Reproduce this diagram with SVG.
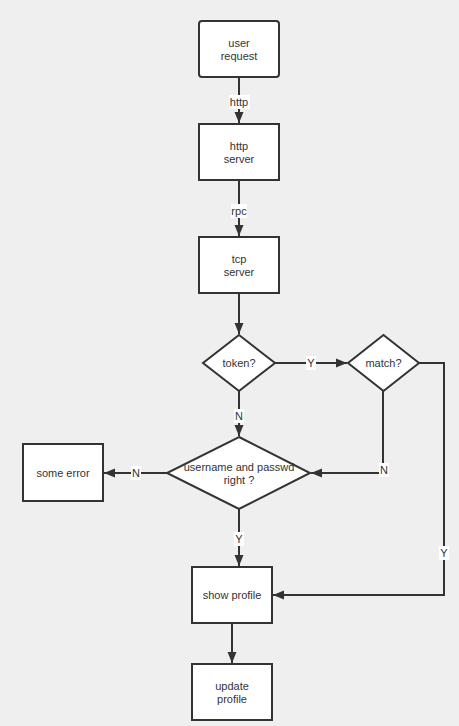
<svg xmlns="http://www.w3.org/2000/svg" width="459" height="726" viewBox="0 0 459 726">
<defs>
<style>
.n{fill:#fff;stroke:#333;stroke-width:2}
.t{font-family:"Liberation Sans",Arial,sans-serif;font-size:11px;fill:#333;text-anchor:middle;dominant-baseline:central}
.c{fill:none;stroke:#333;stroke-width:2}
.lb{fill:#fff}
</style>
<marker id="a" markerUnits="userSpaceOnUse" markerWidth="12" markerHeight="12" viewBox="0 0 12 12" refX="11" refY="6" orient="auto">
<path d="M0,1.5 L11,6 L0,10.5 Z" fill="#333"/>
</marker>
</defs>
<rect width="459" height="726" fill="#efefef"/>
<g id="connectors">
<path class="c" d="M239,77 V123" marker-end="url(#a)"/>
<path class="c" d="M239,180 V236" marker-end="url(#a)"/>
<path class="c" d="M239,293 V334" marker-end="url(#a)"/>
<path class="c" d="M275,363 H347" marker-end="url(#a)"/>
<path class="c" d="M239,391 V436" marker-end="url(#a)"/>
<path class="c" d="M383,391 V473 H311" marker-end="url(#a)"/>
<path class="c" d="M167,473 H104" marker-end="url(#a)"/>
<path class="c" d="M239,509 V566" marker-end="url(#a)"/>
<path class="c" d="M419,363 H444 V595 H273" marker-end="url(#a)"/>
<path class="c" d="M232,623 V663" marker-end="url(#a)"/>
<rect class="lb" x="229" y="95" width="21" height="14"/>
<text class="t" x="239" y="102">http</text>
<rect class="lb" x="231" y="204" width="16" height="14"/>
<text class="t" x="239" y="211">rpc</text>
<rect class="lb" x="306" y="356" width="10" height="14"/>
<text class="t" x="311" y="363">Y</text>
<rect class="lb" x="234" y="409" width="10" height="14"/>
<text class="t" x="239" y="416">N</text>
<rect class="lb" x="379" y="463" width="10" height="14"/>
<text class="t" x="384" y="470">N</text>
<rect class="lb" x="131" y="466" width="10" height="14"/>
<text class="t" x="136" y="473">N</text>
<rect class="lb" x="234" y="532" width="10" height="14"/>
<text class="t" x="239" y="539">Y</text>
<rect class="lb" x="439" y="546" width="10" height="14"/>
<text class="t" x="444" y="553">Y</text>
</g>
<g id="user-request">
<rect class="n" x="199" y="21" width="80" height="56" rx="3"/>
<text class="t" x="239" y="43">user</text>
<text class="t" x="239" y="56">request</text>
</g>
<g id="http-server">
<rect class="n" x="199" y="124" width="80" height="56"/>
<text class="t" x="239" y="146">http</text>
<text class="t" x="239" y="159">server</text>
</g>
<g id="tcp-server">
<rect class="n" x="199" y="237" width="80" height="56"/>
<text class="t" x="239" y="259">tcp</text>
<text class="t" x="239" y="272">server</text>
</g>
<g id="token">
<polygon class="n" points="239,335 275,363 239,391 203,363"/>
<text class="t" x="239" y="363">token?</text>
</g>
<g id="match">
<polygon class="n" points="383.5,335 419,363 383.5,391 348,363"/>
<text class="t" x="383.5" y="363">match?</text>
</g>
<g id="username-passwd">
<polygon class="n" points="239,437 310,473 239,509 167,473"/>
<text class="t" x="239" y="467">username and passwd</text>
<text class="t" x="239" y="480">right ?</text>
</g>
<g id="some-error">
<rect class="n" x="23" y="444" width="80" height="57"/>
<text class="t" x="63" y="473">some error</text>
</g>
<g id="show-profile">
<rect class="n" x="192" y="567" width="80" height="56"/>
<text class="t" x="232" y="595">show profile</text>
</g>
<g id="update-profile">
<rect class="n" x="192" y="664" width="80" height="56"/>
<text class="t" x="232" y="686">update</text>
<text class="t" x="232" y="699">profile</text>
</g>
</svg>
